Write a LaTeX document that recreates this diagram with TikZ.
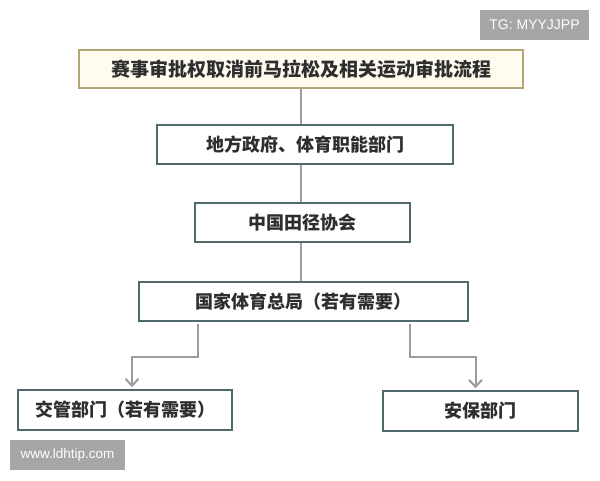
\documentclass[tikz,border=0pt]{standalone}
\usepackage{fontspec}
\setmainfont{Liberation Sans}
\newfontfamily\cjk{Noto Sans CJK SC}
\usetikzlibrary{arrows.meta}
\definecolor{titleline}{HTML}{B3A676}
\definecolor{titlefill}{HTML}{FFFCEF}
\definecolor{boxline}{HTML}{4F6A6A}
\definecolor{linkgray}{HTML}{9C9C9C}
\definecolor{textgray}{HTML}{2E2E2E}
\definecolor{stampgray}{HTML}{A6A6A6}
\begin{document}
\begin{tikzpicture}[x=1pt,y=-1pt,
  box/.style={draw=boxline, line width=1.5pt, fill=white, inner sep=0pt, minimum height=39pt,
    text=textgray, font=\cjk\bfseries\fontsize{18}{20}\selectfont},
  link/.style={draw=linkgray, line width=2pt},
  stamp/.style={fill=stampgray, text=white, inner sep=0pt, minimum height=30pt}]
\useasboundingbox[fill=white] (0,0) rectangle (600,480);
\node[box, draw=titleline, fill=titlefill, minimum width=444pt, minimum height=38pt,
  font=\cjk\bfseries\fontsize{19}{21}\selectfont] (title) at (301,69) {赛事审批权取消前马拉松及相关运动审批流程};
\node[box, minimum width=296pt] (gov) at (305,144.5) {地方政府、体育职能部门};
\node[box, minimum width=215pt] (assoc) at (302.5,222.5) {中国田径协会};
\node[box, minimum width=329pt] (bureau) at (303.5,301.5) {国家体育总局（若有需要）};
\node[box, minimum width=214pt, minimum height=40pt] (traffic) at (125,410) {交管部门（若有需要）};
\node[box, minimum width=195pt, minimum height=40pt] (security) at (480.5,411) {安保部门};
\draw[link] (title.south) -- (title.south |- gov.north);
\draw[link] (title.south |- gov.south) -- (title.south |- assoc.north);
\draw[link] (title.south |- assoc.south) -- (title.south |- bureau.north);
\draw[link, -{Straight Barb[length=7pt,width=13pt]}] ([xshift=-105.5pt,yshift=-2pt]bureau.south) -- ++(0,33) -| ([xshift=7pt,yshift=2pt]traffic.north);
\draw[link, -{Straight Barb[length=7pt,width=13pt]}] ([xshift=106.5pt,yshift=-2pt]bureau.south) -- ++(0,33) -| ([xshift=-5pt,yshift=2pt]security.north);
\node[stamp, minimum width=109pt, font=\fontsize{14}{16}\selectfont] (tg) at (534.5,25) {TG: MYYJJPP};
\node[stamp, minimum width=115pt, font=\fontsize{13.5}{16}\selectfont] (site) at (67.5,455) {www.ldhtip.com};
\end{tikzpicture}
\end{document}
